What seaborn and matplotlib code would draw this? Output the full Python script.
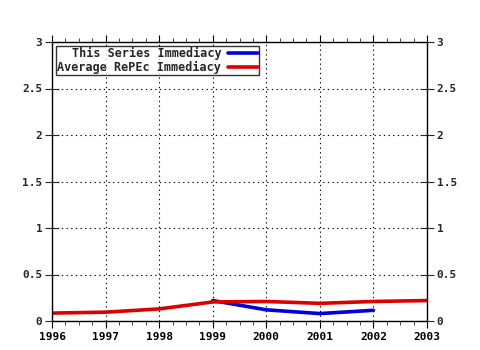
import matplotlib
matplotlib.use("Agg")
import matplotlib.pyplot as plt
import seaborn as sns
import pandas as pd
from matplotlib.ticker import MultipleLocator

years_series = [1999, 2000, 2001, 2002]
series_imm = [0.22, 0.12, 0.08, 0.115]
years_avg = [1996, 1997, 1998, 1999, 2000, 2001, 2002, 2003]
avg_imm = [0.085, 0.095, 0.13, 0.205, 0.21, 0.19, 0.21, 0.22]
label_series = "This Series Immediacy"
label_avg = "Average RePEc Immediacy"

sns.set_style("white")
plt.rcParams['font.family'] = ['DejaVu Sans Mono']
plt.rcParams['font.weight'] = 'bold'

fig = plt.figure(figsize=(4.8, 3.5), dpi=100)
ax = fig.add_axes([52/480, 1-321/350, (427-52)/480, (321-42)/350])

df1 = pd.DataFrame({"year": years_series, "val": series_imm})
df2 = pd.DataFrame({"year": years_avg, "val": avg_imm})
sns.lineplot(data=df1, x="year", y="val", ax=ax, color="#0000dd", lw=2.6, label=label_series)
sns.lineplot(data=df2, x="year", y="val", ax=ax, color="#dd0000", lw=2.6, label=label_avg)

ax.set_xlim(1996, 2003)
ax.set_ylim(0, 3)
ax.set_xlabel("")
ax.set_ylabel("")
ax.xaxis.set_minor_locator(MultipleLocator(0.25))
ax.set_yticks([0, 0.5, 1, 1.5, 2, 2.5, 3])
ax.set_yticklabels(["0", "0.5", "1", "1.5", "2", "2.5", "3"])
ax.set_xticks(range(1996, 2004))
ax.set_xticklabels([str(y) for y in range(1996, 2004)])
ax.grid(True, which='major', color='black', linestyle=(0, (1.2, 3)), lw=0.8)
for s in ax.spines.values():
    s.set_color('black')
    s.set_linewidth(1)
ax.tick_params(axis='x', which='major', direction='out', length=5, top=True, bottom=True,
               labelsize=8, pad=3, colors='black')
ax.tick_params(axis='x', which='minor', direction='out', length=3, top=True, bottom=True)
ax.tick_params(axis='y', which='major', direction='inout', length=10, left=True, right=True,
               labelleft=True, labelright=True, labelsize=8, pad=2)
for lab in ax.get_xticklabels() + ax.get_yticklabels():
    lab.set_fontweight('bold')

leg = ax.legend(loc='upper left', bbox_to_anchor=(0.005, 0.995), markerfirst=False,
                frameon=True, fancybox=False, edgecolor='black', fontsize=8.5,
                handlelength=2.5, borderpad=0.1, labelspacing=0.05, handletextpad=0.6,
                borderaxespad=0.2, alignment='right')
leg.get_frame().set_linewidth(1)
for t in leg.get_texts():
    t.set_ha('right')
    t.set_fontweight('bold')
leg._legend_box.align = "right"

fig.savefig("out.png", dpi=100, facecolor='white')
